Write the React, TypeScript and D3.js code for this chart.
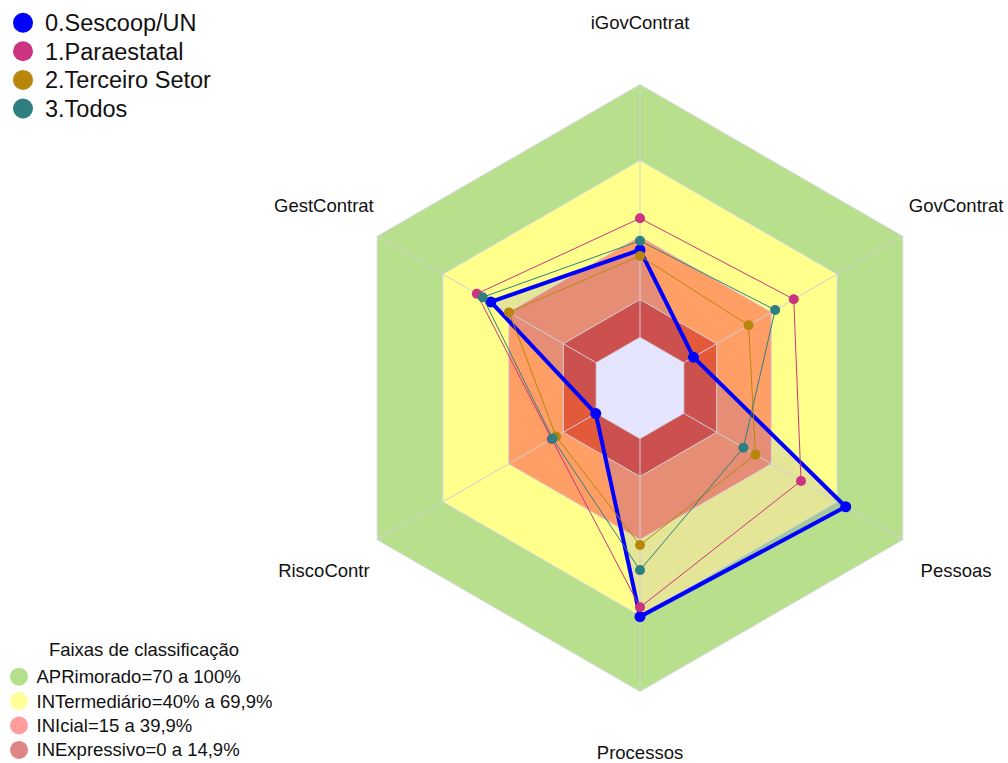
import React from 'react'
import * as d3 from 'd3'

// axes of the radar, clockwise from the top
const axes = ['iGovContrat', 'GovContrat', 'Pessoas', 'Processos', 'RiscoContr', 'GestContrat']

const seriesNames = ['0.Sescoop/UN', '1.Paraestatal', '2.Terceiro Setor', '3.Todos']
const seriesColors = ['#0000ff', '#cc3380', '#b8860b', '#2e8080']
const sescoop = [34.6, 4.4, 73.9, 70.4, 0.2, 48.1]
const paraestatal = [47.1, 50.2, 53.5, 66.7, 20.3, 54.5]
const terceiro = [32.2, 29.6, 32.7, 42.1, 18.3, 39.8]
const todos = [38.2, 41.7, 27.2, 52.0, 19.9, 51.8]
const seriesValues = [sescoop, paraestatal, terceiro, todos]

// classification bands (outer limit of each ring)
const bandTitle = 'Faixas de classificação'
const bandLabels = ['APRimorado=70 a 100%', 'INTermediário=40% a 69,9%', 'INIcial=15 a 39,9%', 'INExpressivo=0 a 14,9%']
const bandLimits = [100, 70, 40, 15, 0]
const bandFills = ['#b8e08c', '#ffff8c', '#ff9f66', '#e35a3a', '#ffffff']
const bandLegendColors = ['#b6df8b', '#ffff99', '#ff9d9d', '#e08585']

const radialDomain = [-20, 100]

export default function App() {
    const width = 1008
    const height = 763
    const cx = 640
    const cy = 388
    const outer = 303.5
    const font = '"Liberation Sans", Arial, sans-serif'

    const r = d3.scaleLinear().domain(radialDomain).range([0, outer])
    const angle = d3.scalePoint<string>().domain(axes).range([0, 2 * Math.PI * (axes.length - 1) / axes.length])

    const pt = (a: string, v: number): [number, number] => {
        const t = angle(a) as number
        return [cx + r(v) * Math.sin(t), cy - r(v) * Math.cos(t)]
    }

    const closed = d3.line().curve(d3.curveLinearClosed)
    const ring = (v: number) => closed(axes.map(a => pt(a, v))) as string

    return (
        <svg width={width} height={height} style={{ position: 'absolute', left: 0, top: 0, fontFamily: font }}>
            <rect width={width} height={height} fill="#ffffff" />

            {bandLimits.map((lim, i) => (
                <path key={`band-${i}`} d={ring(lim)} fill={bandFills[i]} stroke="none" />
            ))}

            {/* tinted area of the first series */}
            <path d={closed(axes.map((a, j) => pt(a, sescoop[j]))) as string} fill="rgba(0,0,255,0.1)" stroke="none" />

            {bandLimits.map((lim, i) => (
                <path key={`edge-${i}`} d={ring(lim)} fill="none" stroke="rgba(215,215,232,0.9)" strokeWidth={1} />
            ))}
            {axes.map(a => {
                const [x1, y1] = pt(a, 0)
                const [x2, y2] = pt(a, 100)
                return <line key={`spoke-${a}`} x1={x1} y1={y1} x2={x2} y2={y2} stroke="#cfcfdc" strokeWidth={1} />
            })}

            {seriesValues.map((vals, i) => {
                const pts = axes.map((a, j) => pt(a, vals[j]))
                return (
                    <g key={`series-${i}`}>
                        <path d={closed(pts) as string} fill="none" stroke={seriesColors[i]}
                              strokeWidth={i === 0 ? 4 : 1} strokeLinejoin="round" />
                        {pts.map((p, j) => (
                            <circle key={j} cx={p[0]} cy={p[1]} r={i === 0 ? 5.5 : 5} fill={seriesColors[i]} />
                        ))}
                    </g>
                )
            })}

            {axes.map(a => {
                const t = angle(a) as number
                const R = 365
                return (
                    <text key={`lab-${a}`} x={cx + R * Math.sin(t)} y={cy - R * Math.cos(t)} dy="0.35em"
                          textAnchor="middle" fontSize={18.5} fill="#111">{a}</text>
                )
            })}

            {seriesNames.map((name, i) => (
                <g key={`leg-${i}`} transform={`translate(0, ${22.7 + i * 28.6})`}>
                    <circle cx={23} cy={0} r={10} fill={seriesColors[i]} />
                    <text x={45} y={0} dy="0.35em" fontSize={23.5} fill="#111">{name}</text>
                </g>
            ))}

            <text x={144} y={650} dy="0.35em" textAnchor="middle" fontSize={18.5} fill="#111">{bandTitle}</text>
            {bandLabels.map((lab, i) => (
                <g key={`bleg-${i}`} transform={`translate(0, ${676.7 + i * 24.4})`}>
                    <circle cx={19} cy={0} r={9} fill={bandLegendColors[i]} />
                    <text x={36.5} y={0} dy="0.35em" fontSize={18.5} fill="#111">{lab}</text>
                </g>
            ))}
        </svg>
    )
}
